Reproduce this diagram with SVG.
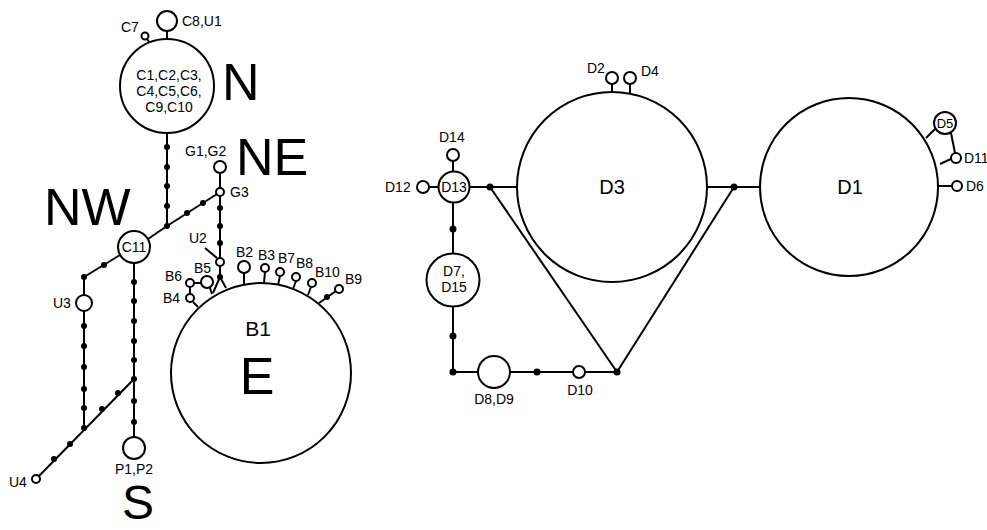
<svg xmlns="http://www.w3.org/2000/svg" width="987" height="530" viewBox="0 0 987 530">
<style>
.n{fill:#fff;stroke:#000;stroke-width:2}
.e{fill:none;stroke:#000;stroke-width:2}
.d{fill:#000;stroke:none}
text{font-family:"Liberation Sans",Arial,sans-serif;fill:#000}
.s{font-size:14px}
.m{font-size:14px;text-anchor:middle}
.L{font-size:20px;text-anchor:middle}
.R{font-size:52px}
</style>
<rect width="987" height="530" fill="#fff"/>
<g id="connectors">
<line class="e" x1="167" y1="31" x2="167" y2="39"/>
<line class="e" x1="147" y1="39" x2="150" y2="43"/>
<line class="e" x1="167" y1="133" x2="167" y2="226"/>
<line class="e" x1="167" y1="226" x2="217" y2="194"/>
<line class="e" x1="167" y1="226" x2="148" y2="239"/>
<line class="e" x1="120" y1="255" x2="84" y2="277"/>
<line class="e" x1="84" y1="277" x2="84" y2="295"/>
<line class="e" x1="84" y1="311" x2="84" y2="428"/>
<line class="e" x1="134" y1="263" x2="134" y2="437"/>
<line class="e" x1="39" y1="476" x2="134" y2="379"/>
<line class="e" x1="220" y1="173" x2="220" y2="188"/>
<line class="e" x1="220" y1="196" x2="220" y2="258"/>
<line class="e" x1="220" y1="266" x2="220" y2="277"/>
<line class="e" x1="220" y1="277" x2="213" y2="293"/>
<line class="e" x1="220" y1="277" x2="226" y2="288"/>
<line class="e" x1="205" y1="248" x2="217" y2="258"/>
<line class="e" x1="194" y1="283" x2="201" y2="283"/>
<line class="e" x1="190" y1="287" x2="190" y2="294"/>
<line class="e" x1="210" y1="288" x2="212" y2="294"/>
<line class="e" x1="193" y1="302" x2="198" y2="307"/>
<line class="e" x1="244" y1="273" x2="244" y2="284"/>
<line class="e" x1="265" y1="272" x2="264" y2="283"/>
<line class="e" x1="280" y1="276" x2="278" y2="285"/>
<line class="e" x1="296" y1="281" x2="293" y2="289"/>
<line class="e" x1="311" y1="287" x2="308" y2="295"/>
<line class="e" x1="336" y1="291" x2="319" y2="303"/>
<line class="e" x1="453" y1="161" x2="453" y2="172"/>
<line class="e" x1="429" y1="187" x2="439" y2="187"/>
<line class="e" x1="469" y1="187" x2="518" y2="187"/>
<line class="e" x1="490" y1="187" x2="617" y2="372"/>
<line class="e" x1="707" y1="187" x2="761" y2="187"/>
<line class="e" x1="734" y1="187" x2="617" y2="372"/>
<line class="e" x1="453" y1="203" x2="453" y2="253"/>
<line class="e" x1="453" y1="306" x2="453" y2="372"/>
<line class="e" x1="453" y1="372" x2="478" y2="372"/>
<line class="e" x1="510" y1="372" x2="573" y2="372"/>
<line class="e" x1="585" y1="372" x2="617" y2="372"/>
<line class="e" x1="612" y1="84" x2="612" y2="92"/>
<line class="e" x1="630" y1="84" x2="630" y2="93"/>
<line class="e" x1="935" y1="129" x2="926" y2="138"/>
<line class="e" x1="951" y1="133" x2="955" y2="153"/>
<line class="e" x1="951" y1="159" x2="940" y2="164"/>
<line class="e" x1="937" y1="186" x2="952" y2="186"/>
<g class="d">
<circle cx="167" cy="147" r="3"/><circle cx="167" cy="167" r="3"/><circle cx="167" cy="186" r="3"/><circle cx="167" cy="206" r="3"/><circle cx="167" cy="226" r="3"/>
<circle cx="187" cy="213" r="3"/><circle cx="203" cy="203" r="3"/>
<circle cx="104" cy="265" r="3"/><circle cx="84" cy="277" r="3"/>
<circle cx="84" cy="326" r="3"/><circle cx="84" cy="346" r="3"/><circle cx="84" cy="367" r="3"/><circle cx="84" cy="389" r="3"/><circle cx="84" cy="408" r="3"/><circle cx="84" cy="428" r="3"/>
<circle cx="134" cy="282" r="3"/><circle cx="134" cy="301" r="3"/><circle cx="134" cy="321" r="3"/><circle cx="134" cy="341" r="3"/><circle cx="134" cy="360" r="3"/><circle cx="134" cy="379" r="3"/><circle cx="134" cy="401" r="3"/><circle cx="134" cy="422" r="3"/>
<circle cx="54" cy="459" r="3"/><circle cx="70" cy="444" r="3"/><circle cx="102" cy="409" r="3"/><circle cx="118" cy="393" r="3"/>
<circle cx="220" cy="208" r="3"/><circle cx="220" cy="226" r="3"/><circle cx="220" cy="243" r="3"/><circle cx="220" cy="277" r="3"/>
<circle cx="327" cy="297" r="3"/>
<circle cx="490" cy="187" r="3.5"/><circle cx="734" cy="187" r="3.5"/><circle cx="617" cy="372" r="3.5"/>
<circle cx="453" cy="229" r="3.5"/><circle cx="453" cy="336" r="3.5"/><circle cx="453" cy="372" r="3.5"/><circle cx="537" cy="372" r="3.5"/>
</g>
</g>
<g id="C8U1"><circle class="n" cx="167" cy="21" r="10"/><text class="s" x="182" y="26">C8,U1</text></g>
<g id="C7"><circle class="n" cx="145" cy="36" r="3.5"/><text class="s" x="121" y="32">C7</text></g>
<g id="N"><circle class="n" cx="167" cy="86" r="47"/>
<text class="m" x="169" y="80">C1,C2,C3,</text><text class="m" x="169" y="96">C4,C5,C6,</text><text class="m" x="169" y="112">C9,C10</text>
<text class="R" x="222" y="100">N</text></g>
<g id="NE"><text class="R" x="236" y="175">NE</text></g>
<g id="NW"><text class="R" x="44" y="225">NW</text></g>
<g id="S"><text x="122" y="519" font-size="48">S</text></g>
<g id="G1G2"><circle class="n" cx="220" cy="167" r="6"/><text class="s" x="185" y="156">G1,G2</text></g>
<g id="G3"><circle class="n" cx="220" cy="192" r="4"/><text class="s" x="230" y="197">G3</text></g>
<g id="C11"><circle class="n" cx="134" cy="247" r="16"/><text class="m" x="134" y="252">C11</text></g>
<g id="U3"><circle class="n" cx="84" cy="303" r="8"/><text class="s" x="53" y="308">U3</text></g>
<g id="U4"><circle class="n" cx="36" cy="479" r="4"/><text class="s" x="9" y="487">U4</text></g>
<g id="P1P2"><circle class="n" cx="134" cy="448" r="11"/><text class="s" x="134" y="474" text-anchor="middle">P1,P2</text></g>
<g id="U2"><circle class="n" cx="220" cy="262" r="4"/><text class="s" x="189" y="243">U2</text></g>
<g id="B5"><circle class="n" cx="207" cy="282" r="6"/><text class="s" x="194" y="273">B5</text></g>
<g id="B6"><circle class="n" cx="190" cy="283" r="4"/><text class="s" x="165" y="281">B6</text></g>
<g id="B4"><circle class="n" cx="190" cy="298" r="4"/><text class="s" x="163" y="303">B4</text></g>
<g id="B1"><circle class="n" cx="261" cy="373" r="90"/><text x="258" y="336" font-size="21" text-anchor="middle">B1</text><text class="R" x="257" y="394" text-anchor="middle">E</text></g>
<g id="B2"><circle class="n" cx="244" cy="267" r="6"/><text class="s" x="236" y="257">B2</text></g>
<g id="B3"><circle class="n" cx="265" cy="268" r="4"/><text class="s" x="258" y="260">B3</text></g>
<g id="B7"><circle class="n" cx="280" cy="272" r="4"/><text class="s" x="278" y="263">B7</text></g>
<g id="B8"><circle class="n" cx="296" cy="277" r="4"/><text class="s" x="296" y="268">B8</text></g>
<g id="B10"><circle class="n" cx="312" cy="283" r="4"/><text class="s" x="315" y="277">B10</text></g>
<g id="B9"><circle class="n" cx="339" cy="289" r="4"/><text class="s" x="345" y="284">B9</text></g>
<g id="D3"><circle class="n" cx="612" cy="187" r="95"/><text class="L" x="612" y="194">D3</text></g>
<g id="D1"><circle class="n" cx="849" cy="187" r="89"/><text class="L" x="850" y="194">D1</text></g>
<g id="D13"><circle class="n" cx="454" cy="187" r="15.5"/><text class="m" x="454" y="192">D13</text></g>
<g id="D14"><circle class="n" cx="453" cy="155" r="6"/><text class="s" x="439" y="142">D14</text></g>
<g id="D12"><circle class="n" cx="423" cy="187" r="6"/><text class="s" x="385" y="192">D12</text></g>
<g id="D7D15"><circle class="n" cx="453" cy="280" r="26.5"/><text class="m" x="454" y="276">D7,</text><text class="m" x="454" y="292">D15</text></g>
<g id="D8D9"><circle class="n" cx="494" cy="372" r="16"/><text class="s" x="494" y="404" text-anchor="middle">D8,D9</text></g>
<g id="D10"><circle class="n" cx="579" cy="372" r="6"/><text class="s" x="580" y="395" text-anchor="middle">D10</text></g>
<g id="D2"><circle class="n" cx="612" cy="78" r="6"/><text class="s" x="587" y="73">D2</text></g>
<g id="D4"><circle class="n" cx="630" cy="78" r="6"/><text class="s" x="641" y="76">D4</text></g>
<g id="D5"><circle class="n" cx="945" cy="123" r="11"/><text x="945" y="128" font-size="13" text-anchor="middle">D5</text></g>
<g id="D11"><circle class="n" cx="956" cy="158" r="5"/><text class="s" x="964" y="163">D11</text></g>
<g id="D6"><circle class="n" cx="957" cy="186" r="5"/><text class="s" x="966" y="191">D6</text></g>
</svg>
